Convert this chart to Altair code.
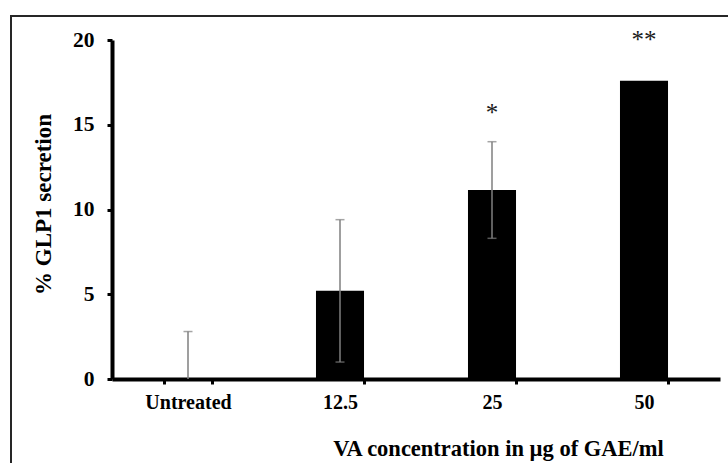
import altair as alt
import pandas as pd

categories = ["Untreated", "12.5", "25", "50"]
means = [0.0, 5.2, 11.15, 17.6]
errors = [2.8, 4.2, 2.85, 0.0]
star_labels = ["", "", "*", "**"]
star_y = [None, None, 15.25, 19.5]

FONT = "Liberation Serif"

df = pd.DataFrame({"cat": categories, "mean": means, "err": errors})
df["lo"] = (df["mean"] - df["err"]).clip(lower=0)
df["hi"] = df["mean"] + df["err"]
df_err = df[df["err"] > 0]
df_lo = df_err[df_err["mean"] - df_err["err"] >= 0]
stars = pd.DataFrame({"cat": categories, "lab": star_labels, "y": star_y}).dropna()

x_enc = alt.X(
    "cat:N",
    sort=categories,
    scale=alt.Scale(paddingInner=0.684, paddingOuter=0.342),
    axis=alt.Axis(
        title="VA concentration in \u00b5g of GAE/ml",
        labelAngle=0,
        tickBand="extent",
        labelPadding=8,
        labelFontSize=20,
        titleX=386,
        titleY=76,
        titleAlign="center",
        titleAnchor="start",
        titleBaseline="alphabetic",
        titleFontSize=22.5,
    ),
)
y_scale = alt.Scale(domain=[0, 20], nice=False)

bars = alt.Chart(df).mark_bar(color="black").encode(
    x=x_enc,
    y=alt.Y(
        "mean:Q",
        scale=y_scale,
        axis=alt.Axis(
            title="% GLP1 secretion",
            values=[0, 5, 10, 15, 20],
            labelPadding=13,
            labelFontSize=21.5,
            titleX=-62,
            titleY=164,
            titleAnchor="start",
            titleAlign="center",
            titleBaseline="alphabetic",
            titleFontSize=23,
        ),
    ),
)

rules = alt.Chart(df_err).mark_rule(color="#7f7f7f", strokeWidth=1.5).encode(
    x=alt.X("cat:N", sort=categories),
    y=alt.Y("lo:Q", scale=y_scale),
    y2="hi:Q",
)
cap_hi = alt.Chart(df_err).mark_tick(color="#7f7f7f", size=9, thickness=1.5).encode(
    x=alt.X("cat:N", sort=categories),
    y=alt.Y("hi:Q", scale=y_scale),
)
cap_lo = alt.Chart(df_lo).mark_tick(color="#7f7f7f", size=9, thickness=1.5).encode(
    x=alt.X("cat:N", sort=categories),
    y=alt.Y("lo:Q", scale=y_scale),
)
star_text = alt.Chart(stars).mark_text(
    font=FONT, fontSize=25, baseline="alphabetic", color="#1a1a1a"
).encode(
    x=alt.X("cat:N", sort=categories),
    y=alt.Y("y:Q", scale=y_scale),
    text="lab:N",
)

frame = alt.Chart(df).mark_rect(
    fill=None, stroke="#262626", strokeWidth=2, clip=False
).encode(
    x=alt.value(-101), x2=alt.value(660), y=alt.value(-24), y2=alt.value(460)
)

chart = (
    alt.layer(frame, bars, rules, cap_hi, cap_lo, star_text)
    .properties(
        width=608,
        height=339,
        autosize=alt.AutoSizeParams(type="none"),
        padding={"left": 112, "top": 40, "right": 8, "bottom": 84},
        background="white",
    )
    .configure_view(stroke=None)
    .configure_axis(
        labelFont=FONT,
        labelFontWeight="bold",
        labelColor="black",
        titleFont=FONT,
        titleFontWeight="bold",
        titleColor="black",
        domainColor="black",
        domainWidth=4,
        tickColor="black",
        tickWidth=3,
        tickSize=5,
        grid=False,
    )
)

chart.save("out.html", embed_options={"renderer": "svg", "actions": False})
